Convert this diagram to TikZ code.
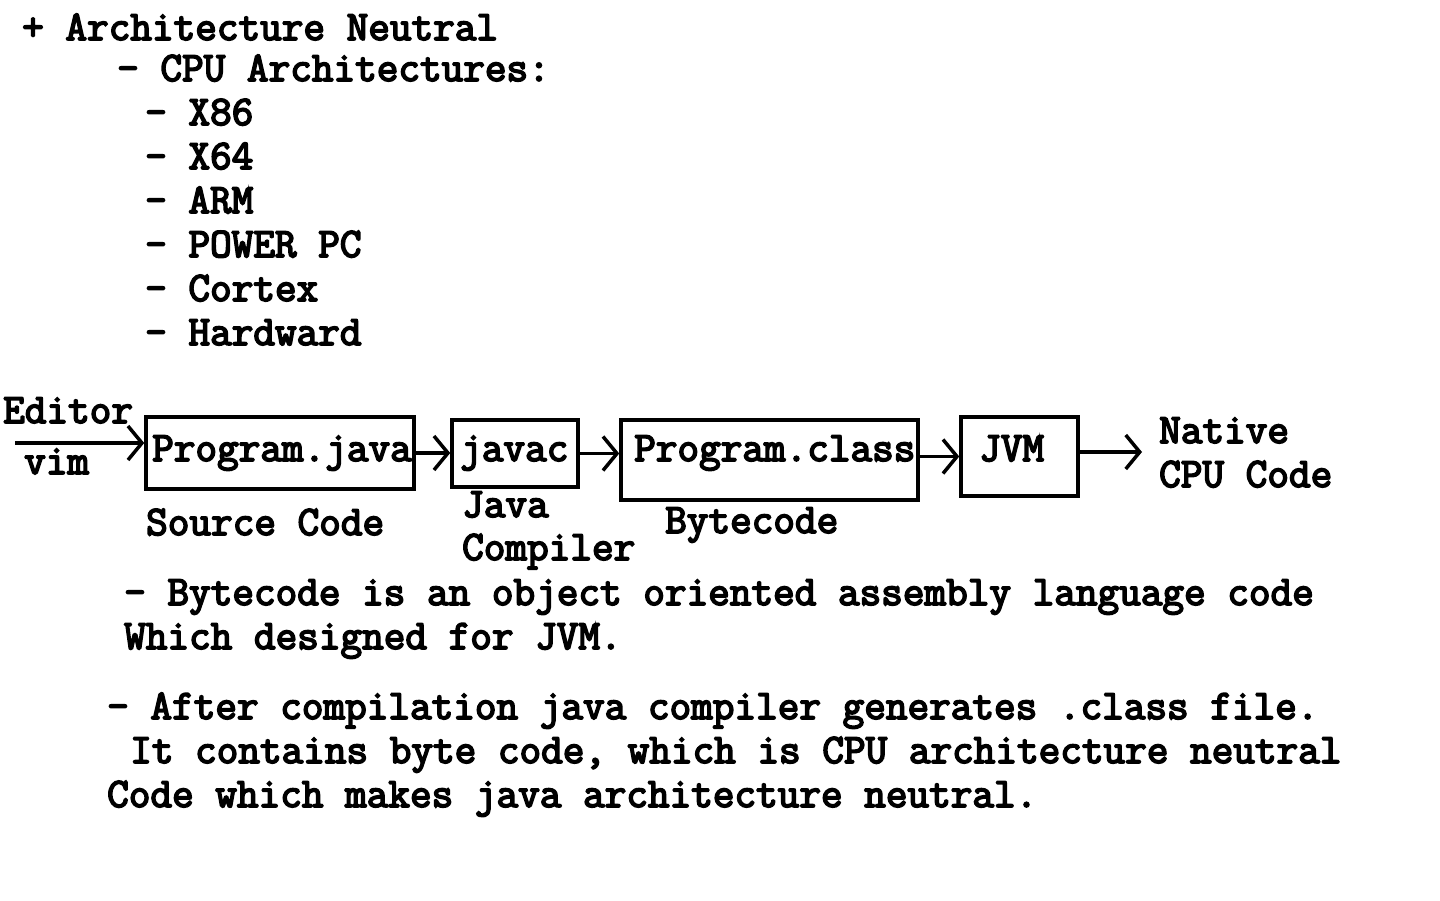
\documentclass[tikz,border=0pt]{standalone}
\usepackage{fontspec}
\newfontfamily\cbold[FakeBold=4]{Latin Modern Mono}
\usetikzlibrary{arrows.meta,calc}
\begin{document}
\begin{tikzpicture}[x=1pt,y=-1pt,
  txt/.style={anchor=base west,inner sep=0pt,font=\cbold\fontsize{42}{42}\selectfont},
  box/.style={draw,line width=3.5pt,inner sep=0pt},
  arr/.style={line width=3.5pt,-{Straight Barb[length=14pt,width=34pt]}}]
\useasboundingbox (0,0) rectangle (1440,900);
\node[txt] (t1) at (22,40) {+ Architecture Neutral};
\node[txt] (t2) at (117,81) {- CPU Architectures:};
\node[txt] (t3) at (145,125) {- X86};
\node[txt] (t4) at (145,169) {- X64};
\node[txt] (t5) at (145,213) {- ARM};
\node[txt] (t6) at (145,257) {- POWER PC};
\node[txt] (t7) at (145,301) {- Cortex};
\node[txt] (t8) at (145,345) {- Hardward};
\node[txt] (ed) at (3,423) {Editor};
\node[txt] (vim) at (24,474) {vim};
% boxes
\node[box,minimum width=268pt,minimum height=72pt] (pj) at (280,453) {};
\node[box,minimum width=126pt,minimum height=67pt] (jc) at (515,453.5) {};
\node[box,minimum width=297pt,minimum height=80pt] (pc) at (769.5,460) {};
\node[box,minimum width=117pt,minimum height=79pt] (jvm) at (1019.5,456.5) {};
\node[txt] (pjt) at (152,461) {Program.java};
\node[txt] (jct) at (460,461) {javac};
\node[txt] (pct) at (634,461) {Program.class};
\node[txt] (jvt) at (979,461) {JVM};
% arrows
\coordinate (e1) at (15,443);
\draw[arr] (e1) -- (e1 -| pj.west);
\draw[arr] (pj.east) -- (pj.east -| jc.west);
\draw[arr] (jc.east) -- (jc.east -| pc.west);
\draw[arr] (pc.east |- jvm.west) -- (jvm.west);
\coordinate (out) at (1142,452);
\draw[arr] (jvm.east |- out) -- (out);
\node[txt] (n1) at (1159,443) {Native};
\node[txt] (n2) at (1159,487) {CPU Code};
\node[txt] (sc) at (146,535) {Source Code};
\node[txt] (jv) at (462,517) {Java};
\node[txt] (cp) at (462,560) {Compiler};
\node[txt] (bc) at (665,533) {Bytecode};
\node[txt] (l1) at (124,605) {- Bytecode is an object oriented assembly language code};
\node[txt] (l2) at (124,649) {Which designed for JVM.};
\node[txt] (l3) at (107,719) {- After compilation java compiler generates .class file.};
\node[txt] (l4) at (130,763) {It contains byte code, which is CPU architecture neutral};
\node[txt] (l5) at (107,807) {Code which makes java architecture neutral.};
\end{tikzpicture}
\end{document}
